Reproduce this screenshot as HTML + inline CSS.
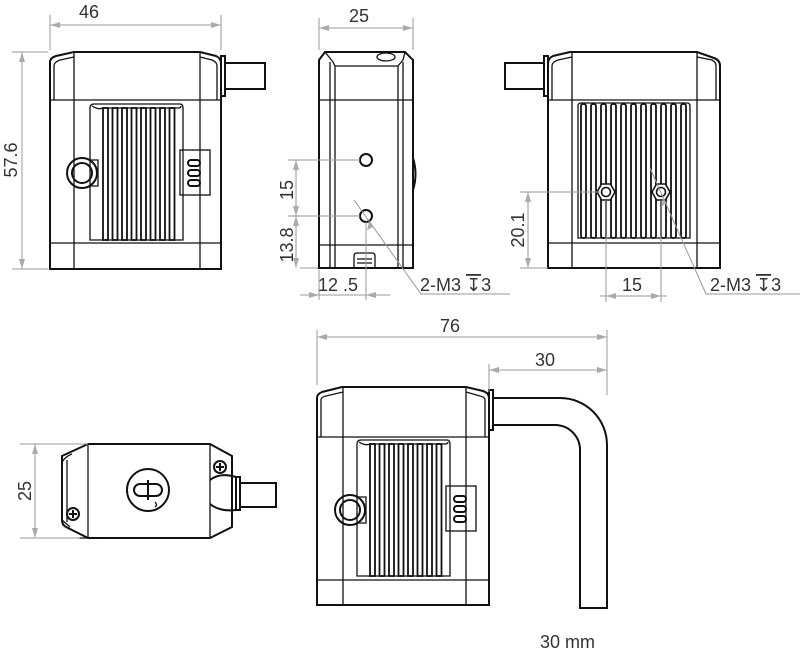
<!DOCTYPE html>
<html><head><meta charset="utf-8"><style>
html,body{margin:0;padding:0;background:#fff}
svg{display:block}
text{font-family:"Liberation Sans","DejaVu Sans",sans-serif;fill:#333;font-size:18px}
.b{fill:none;stroke:#111;stroke-width:2}
.t{fill:none;stroke:#111;stroke-width:1.3}
.d{fill:none;stroke:#999;stroke-width:1}
.a{fill:#aaa}
.f{fill:#fff;stroke:#111;stroke-width:1.8}
</style></head><body>
<svg width="800" height="656" viewBox="0 0 800 656" xmlns="http://www.w3.org/2000/svg">
<defs>
<g id="fins1">
 <path class="t" d="M90 240 V108 Q90 104 94 104 H180 Q183 104 183 108 V240 Z"/>
 <path class="t" d="M92 106 Q98 110 103 108 H178 Q181 108 181 106"/>
 <rect class="f" x="103" y="108" width="5" height="132"/>
 <rect class="f" x="112.5" y="108" width="5" height="132"/>
 <rect class="f" x="122" y="108" width="5" height="132"/>
 <rect class="f" x="131.5" y="108" width="5" height="132"/>
 <rect class="f" x="141" y="108" width="5" height="132"/>
 <rect class="f" x="150.5" y="108" width="5" height="132"/>
 <rect class="f" x="160" y="108" width="5" height="132"/>
 <rect class="f" x="169.5" y="108" width="5" height="132"/>
</g>
<g id="knob">
 <circle class="b" cx="0" cy="0" r="15"/>
 <circle class="b" cx="0" cy="0" r="10"/>
 <path class="t" d="M8 -13 H16 V13 H8"/>
</g>
<g id="btn">
 <rect class="t" x="0" y="0" width="30" height="45"/>
 <rect class="b" x="8" y="10" width="12" height="6" rx="3"/>
 <rect class="b" x="8" y="20" width="12" height="6" rx="3"/>
 <rect class="b" x="8" y="30" width="12" height="6" rx="3"/>
</g>
</defs>

<!-- VIEW 1 -->
<path class="b" d="M50 269 V62 Q50 58 56 56 L74 52 H200 L216 56 Q221 58 221 64 V269 Z"/>
<path class="t" d="M74 52 V269 M200 52 V269 M50 100 H221 M50 243 H221 M54 100 V66 Q54 62 60 60 L74 57 M217 100 V66 Q217 62 212 60 L200 57"/>
<use href="#fins1"/>
<use href="#knob" x="82" y="173"/>
<use href="#btn" x="180" y="150"/>
<rect class="b" x="221" y="56" width="4" height="40"/>
<rect class="b" x="225" y="63" width="40" height="26"/>
<path class="d" d="M50 15 V50 M221 15 V50 M50 25 H221 M12 52 H48 M12 269 H48 M22 52 V269"/>
<path class="a" d="M50 25 l10 -3 v6z M221 25 l-10 -3 v6z M22 52 l-3 10 h6z M22 269 l-3 -10 h6z"/>
<text x="79" y="18">46</text>
<text transform="translate(17 160) rotate(-90)" text-anchor="middle">57.6</text>

<!-- VIEW 2 -->
<path class="b" d="M319 268 V60 L325 52 H405 L413 60 V268 Z"/>
<path class="t" d="M330 62 V268 M335 66 V268 M398 66 V268 M403 62 V268 M319 100 H413 M319 245 H413 M325 52 L333 62 L335 66 H398 L403 60 L405 52"/>
<ellipse class="t" cx="386" cy="57" rx="9" ry="4"/>
<circle class="b" cx="366" cy="160" r="6"/>
<circle class="b" cx="366" cy="216" r="6"/>
<path class="b" d="M413 158 Q418 174 413 190"/>
<path class="t" d="M354 268 V256 Q354 253 357 253 H372 Q375 253 375 256 V268 M357 259 H372 M357 263 H372"/>
<path class="d" d="M319 18 V50 M413 18 V50 M319 28 H413 M288 160 H360 M288 216 H360 M296 160 V268 M300 268 H318 M319 270 V300 M366 222 V300 M300 295 H390"/>
<path class="a" d="M319 28 l10 -3 v6z M413 28 l-10 -3 v6z M296 160 l-3 10 h6z M296 216 l-3 -10 h6z M296 216 l-3 10 h6z M296 268 l-3 -10 h6z M319 295 l-10 -3 v6z M366 295 l10 -3 v6z"/>
<path class="d" d="M354 200 L421 294 H510"/>
<path class="a" d="M369 222 l-2 8 l6 -3z"/>
<text x="349" y="22">25</text>
<text transform="translate(293 190) rotate(-90)" text-anchor="middle">15</text>
<text transform="translate(293 245) rotate(-90)" text-anchor="middle">13.8</text>
<text x="318" y="291">12 .5</text>
<text x="420" y="291">2-M3 <tspan text-decoration="overline">↧</tspan>3</text>

<!-- VIEW 3 -->
<path class="b" d="M548 268 V64 Q548 58 553 56 L570 52 H697 L714 58 Q720 60 720 66 V268 Z"/>
<path class="t" d="M572 52 V268 M697 52 V268 M548 100 H720 M548 243 H720 M552 100 V66 Q552 62 558 60 L572 57 M716 100 V66 Q716 62 712 60 L697 57"/>
<path class="t" d="M578 238 V106 Q578 103 581 103 H687 Q690 103 690 106 V238 Z"/>
<g>
<rect class="f" x="581" y="104" width="5" height="134" rx="2"/>
<rect class="f" x="591" y="104" width="5" height="134" rx="2"/>
<rect class="f" x="601" y="104" width="5" height="134" rx="2"/>
<rect class="f" x="611" y="104" width="5" height="134" rx="2"/>
<rect class="f" x="621" y="104" width="5" height="134" rx="2"/>
<rect class="f" x="631" y="104" width="5" height="134" rx="2"/>
<rect class="f" x="641" y="104" width="5" height="134" rx="2"/>
<rect class="f" x="651" y="104" width="5" height="134" rx="2"/>
<rect class="f" x="661" y="104" width="5" height="134" rx="2"/>
<rect class="f" x="671" y="104" width="5" height="134" rx="2"/>
<rect class="f" x="681" y="104" width="5" height="134" rx="2"/>
</g>
<g fill="#fff" stroke="#111" stroke-width="1.6">
<polygon points="615,192 610.5,200 601.5,200 597,192 601.5,184 610.5,184"/>
<circle cx="606" cy="192" r="4.5"/>
<polygon points="670,192 665.5,200 656.5,200 652,192 656.5,184 665.5,184"/>
<circle cx="661" cy="192" r="4.5"/>
</g>
<rect class="b" x="544" y="56" width="4" height="40"/>
<rect class="b" x="505" y="63" width="39" height="26"/>
<path class="d" d="M520 192 H600 M520 268 H548 M528 192 V268 M606 200 V302 M661 200 V302 M600 296 H667"/>
<path class="a" d="M528 192 l-3 10 h6z M528 268 l-3 -10 h6z M606 296 l10 -3 v6z M661 296 l-10 -3 v6z"/>
<path class="d" d="M650 168 L706 294 H800"/>
<path class="a" d="M663 198 l-1 8 l5 -3z"/>
<text transform="translate(524 230) rotate(-90)" text-anchor="middle">20.1</text>
<text x="622" y="291">15</text>
<text x="710" y="291">2-M3 <tspan text-decoration="overline">↧</tspan>3</text>

<!-- VIEW 4 -->
<path class="b" d="M62 456 L88 444 H210 L232 456 V527 L210 538 H88 L66 527 Q62 525 62 520 V462 Z"/>
<path class="t" d="M88 444 V538 M210 444 V538 M67 460 V522 M62 462 Q66 456 72 454 M62 520 L70 527 M232 468 V510"/>
<path class="b" d="M210 480 Q220 472 236 477 V510 Q220 512 210 504"/>
<circle class="b" cx="148" cy="490" r="21"/>
<path class="b" d="M140 484 H156 A6 6 0 0 1 156 496 H140 A6 6 0 0 1 140 484 Z M148 480 V500"/>
<path class="t" d="M155 502 q3 3 0 5"/>
<circle class="b" cx="73" cy="514" r="6"/><path class="b" d="M69 514h8M73 510v8"/>
<circle class="b" cx="220" cy="467" r="6"/><path class="b" d="M216 467h8M220 463v8"/>
<rect class="b" x="236" y="477" width="4" height="33"/>
<rect class="b" x="240" y="483" width="36" height="24"/>
<path class="t" d="M78 538 H104"/>
<path class="d" d="M20 444 H88 M20 538 H80 M35 444 V538"/>
<path class="a" d="M35 444 l-3 10 h6z M35 538 l-3 -10 h6z"/>
<text transform="translate(31 491) rotate(-90)" text-anchor="middle">25</text>

<!-- VIEW 5 -->
<path class="b" d="M317 605 V398 Q317 394 322 392 L342 387 H466 L483 391 Q489 393 489 398 V605 Z"/>
<path class="t" d="M343 387 V605 M466 387 V605 M317 437 H489 M317 580 H489 M321 437 V400 Q321 397 326 396 L343 392 M485 437 V400 Q485 397 480 396 L466 392"/>
<use href="#fins1" transform="translate(267 336)"/>
<use href="#knob" x="350" y="510"/>
<use href="#btn" x="446" y="486"/>
<rect class="b" x="489" y="390" width="4" height="40"/>
<path class="b" d="M493 398 H560 A47 47 0 0 1 607 445 V608 H580 V450 A25 25 0 0 0 555 425 H493"/>
<path class="d" d="M317 330 V385 M607 330 V395 M317 337 H607 M489 364 V392 M489 370 H607"/>
<path class="a" d="M317 337 l10 -3 v6z M607 337 l-10 -3 v6z M489 370 l10 -3 v6z M607 370 l-10 -3 v6z"/>
<text x="450" y="332" text-anchor="middle">76</text>
<text x="545" y="366" text-anchor="middle">30</text>
<text x="540" y="648">30 mm</text>
</svg>
</body></html>
